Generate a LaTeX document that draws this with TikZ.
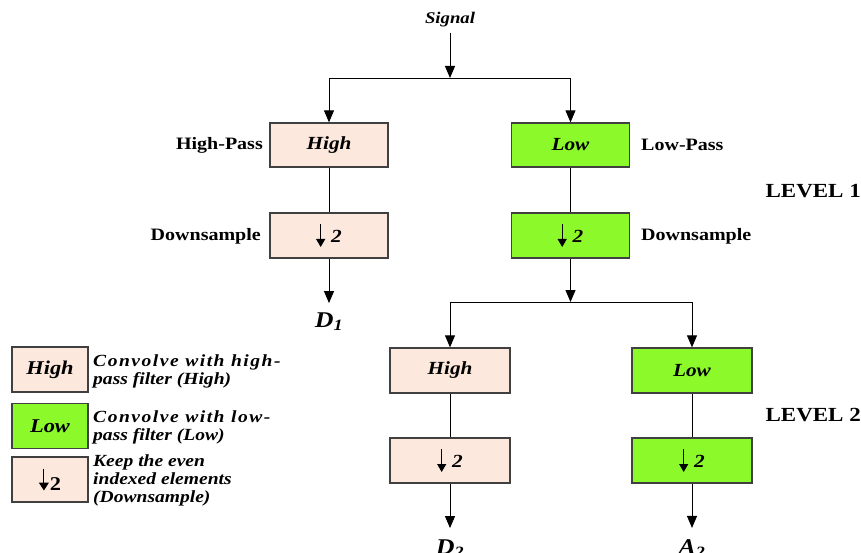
\documentclass[tikz,border=0pt]{standalone}
\usepackage{fontspec}
\setmainfont{Liberation Serif}[FakeStretch=1.15]
\usetikzlibrary{arrows.meta}
\definecolor{peach}{HTML}{FCE8DC}
\definecolor{lime}{HTML}{8CFA2A}
\definecolor{edge}{HTML}{404040}
\tikzset{
  box/.style={draw=edge, line width=1.3pt, minimum width=118pt, minimum height=44pt,
    inner sep=0pt, font=\fontsize{18.5}{22}\selectfont\bfseries\itshape},
  hibox/.style={box, fill=peach},
  lobox/.style={box, fill=lime},
  legbox/.style={box, minimum width=76pt, minimum height=45pt, font=\fontsize{19.5}{22}\selectfont\bfseries\itshape},
  lbl/.style={font=\fontsize{17.4}{20}\selectfont\bfseries, inner sep=0pt},
  lvl/.style={font=\fontsize{20}{24}\selectfont\bfseries, inner sep=0pt},
  result/.style={font=\fontsize{22.5}{26}\selectfont\bfseries\itshape, inner sep=0pt, anchor=base},
  legtxt/.style={font=\fontsize{17}{18}\selectfont\bfseries\itshape, inner sep=0pt,
    align=left, anchor=west},
  wire/.style={line width=0.9pt, black},
  arr/.style={wire, -{Triangle[width=10pt,length=12pt]}}
}
% downward arrow with a filled head, as used in the downsampling boxes
\newcommand{\dnarrow}{\tikz[baseline=0pt]\draw[line width=1.1pt,-{Triangle[width=9pt,length=8pt]}]
  (0pt,18pt) -- (0pt,-5pt);}
\newcommand{\dnarrowkey}{\tikz[baseline=0pt]\draw[line width=1.1pt,-{Triangle[width=10pt,length=8pt]}]
  (0pt,22pt) -- (0pt,0pt);}
\newcommand{\dstext}{\dnarrow\hspace{6pt}{\fontsize{18.5}{20}\selectfont 2}}
\begin{document}
\begin{tikzpicture}[x=1pt, y=-1pt]
  \useasboundingbox (0,0) rectangle (861,553);

  % input
  \node[font=\fontsize{16.3}{18}\selectfont\bfseries\itshape, inner sep=0pt] (sig) at (450,20) {Signal};
  \coordinate (j1) at (450,78);

  % level 1
  \node[hibox] (h1) at (329,145) {High};
  \node[lobox] (l1) at (570.5,145) {Low};
  \node[hibox, minimum height=45pt] (hd1) at (329,235.5) {\dstext};
  \node[lobox, minimum height=45pt] (ld1) at (570.5,235.5) {\dstext};
  \node[result] (d1) at (329,327) {D\textsubscript{1}};
  \coordinate (j2) at (570.5,302);

  % level 2
  \node[hibox, minimum width=120pt, minimum height=45pt] (h2) at (450,370.5) {High};
  \node[lobox, minimum width=120pt, minimum height=45pt] (l2) at (692,370.5) {Low};
  \node[hibox, minimum width=120pt, minimum height=45pt] (hd2) at (450,460.5) {\dstext};
  \node[lobox, minimum width=120pt, minimum height=45pt] (ld2) at (692,460.5) {\dstext};
  \node[result] (d2) at (450,554) {D\textsubscript{2}};
  \node[result] (a2) at (692,554) {A\textsubscript{2}};

  % side labels
  \node[lbl, anchor=east] (hp) at (263,145) {High-Pass};
  \node[lbl, anchor=east] (ds1) at (261,236) {Downsample};
  \node[lbl, anchor=west] (lp) at (641,145) {Low-Pass};
  \node[lbl, anchor=west] (ds2) at (641,236) {Downsample};
  \node[lvl, anchor=east] (lv1) at (861,191) {LEVEL 1};
  \node[lvl, anchor=east] (lv2) at (861,415) {LEVEL 2};

  % connectors
  \draw[arr, shorten <=5pt] (sig) -- (j1);
  \draw[wire] (h1.north |- j1) -- (l1.north |- j1);
  \draw[arr] (h1.north |- j1) -- (h1.north);
  \draw[arr] (l1.north |- j1) -- (l1.north);
  \draw[wire] (h1) -- (hd1);
  \draw[wire] (l1) -- (ld1);
  \draw[arr, shorten >=9pt] (hd1) -- (d1.north);
  \draw[arr] (ld1) -- (j2);
  \draw[wire] (h2.north |- j2) -- (l2.north |- j2);
  \draw[arr] (h2.north |- j2) -- (h2.north);
  \draw[arr] (l2.north |- j2) -- (l2.north);
  \draw[wire] (h2) -- (hd2);
  \draw[wire] (l2) -- (ld2);
  \draw[arr, shorten >=11pt] (hd2) -- (d2.north);
  \draw[arr, shorten >=11pt] (ld2) -- (a2.north);

  % legend
  \node[legbox, fill=peach] (k1) at (50,369.5) {High};
  \node[legbox, fill=lime] (k2) at (50,426) {Low};
  \node[legbox, fill=peach, font=\fontsize{19.5}{22}\selectfont\bfseries] (k3) at (50,479.5) {\dnarrowkey\hspace{1pt}2};
  \node[legtxt] (t1) at (93,371) {{\addfontfeature{LetterSpace=9}Convolve with high-}\\pass filter (High)};
  \node[legtxt] (t2) at (93,427) {{\addfontfeature{LetterSpace=9}Convolve with low-}\\pass filter (Low)};
  \node[legtxt] (t3) at (93,480) {Keep the even\\indexed elements\\(Downsample)};
\end{tikzpicture}
\end{document}
